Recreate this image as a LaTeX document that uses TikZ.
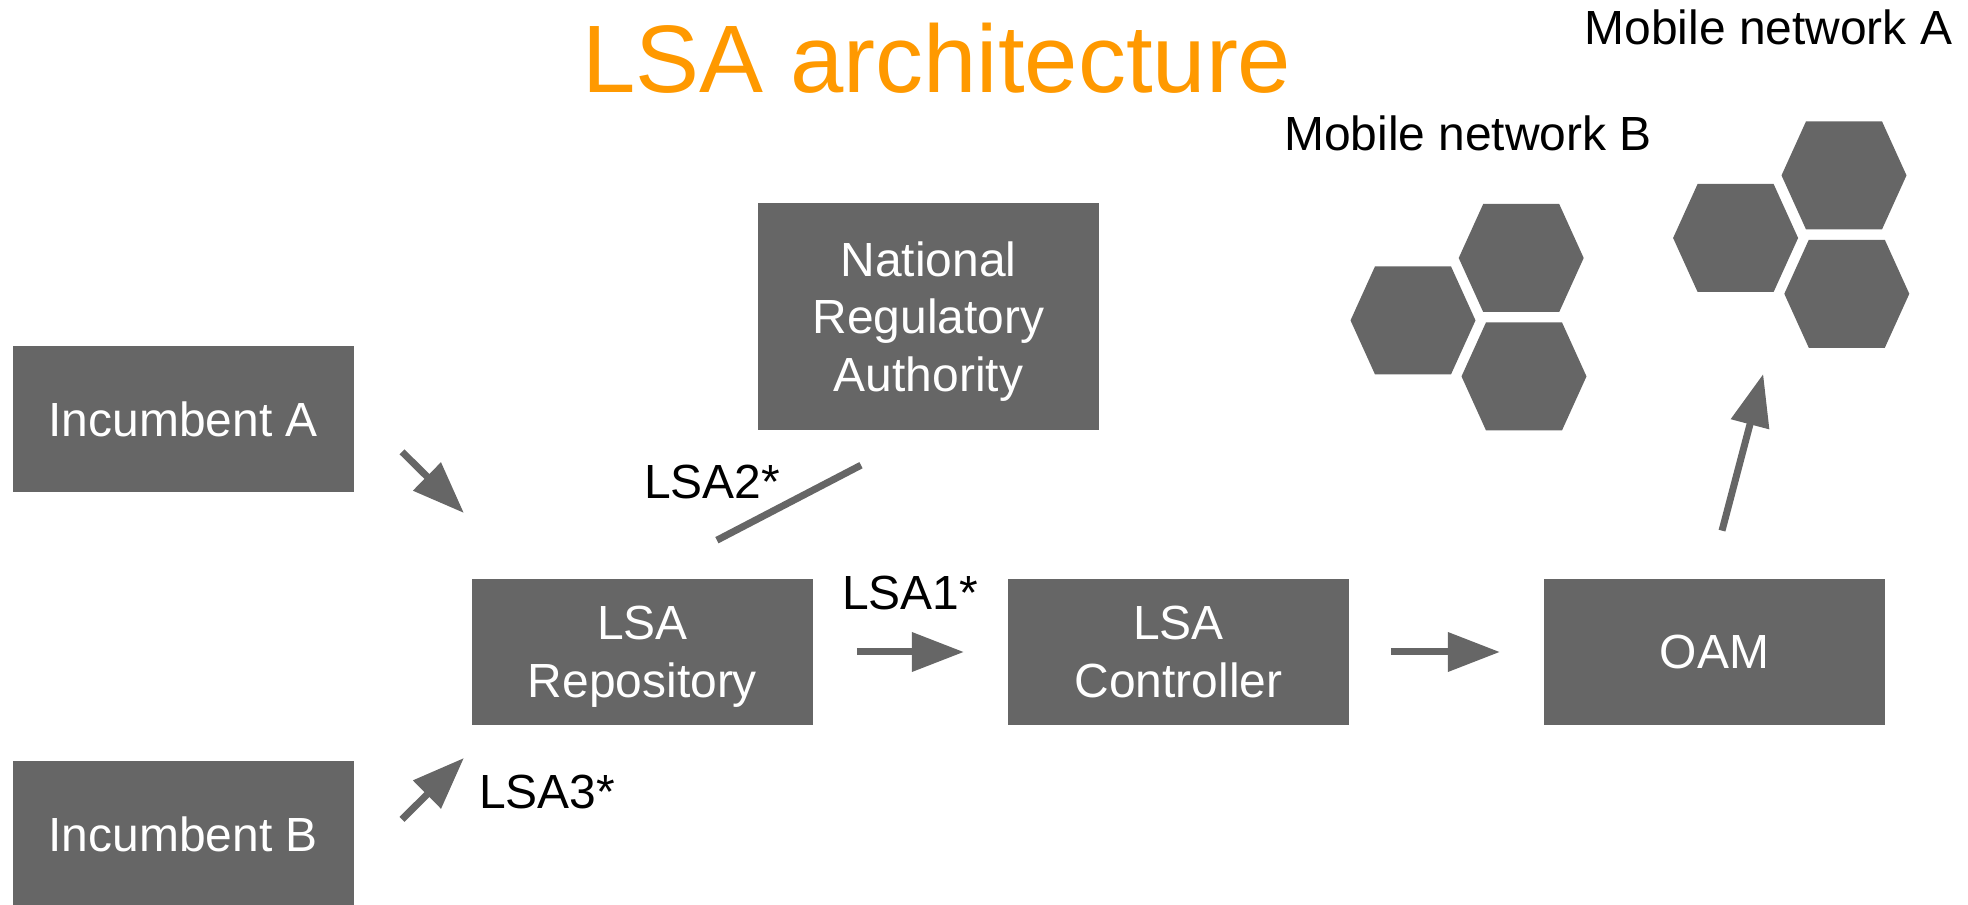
\documentclass[tikz,border=0pt]{standalone}
\usepackage{fontspec}
\setmainfont{Liberation Sans}
\usetikzlibrary{arrows.meta,calc,shapes.symbols}
\definecolor{boxgray}{HTML}{666666}
\definecolor{titleorange}{HTML}{FF9900}

\begin{document}
\begin{tikzpicture}[node distance = 134mm]
        \tikzstyle{box}=[fill = boxgray, text = white, align = center, inner sep = 0, outer sep = 0, minimum width = 85.25mm, minimum height = 36.5mm, text depth = 0pt, font = \fontsize{34.1pt}{41pt}\selectfont]
        \tikzstyle{cell}=[fill = boxgray, signal, signal to = east and west, signal pointer angle = 131.2, minimum width = 31.25mm, minimum height = 27mm, inner sep = 0, outer sep = 0]
        \tikzstyle{lbl}=[font = \fontsize{34.1pt}{41pt}\selectfont, inner sep = 0]
        \tikzstyle{conn}=[boxgray, line width = 1.75mm, -{Triangle[length = 13mm, width = 9.5mm]}]
        \tikzstyle{link}=[boxgray, line width = 1.75mm]

        \useasboundingbox (0,0) rectangle (492mm,226.25mm);

        \node (title) [font = \fontsize{68.2pt}{80pt}\selectfont, text = titleorange, inner sep = 0] at (234.25mm,211.75mm) {LSA architecture};

        \node (repo) [box] at (160.6mm,63.25mm) {LSA\\Repository};
        \node (ctrl) [box, right of = repo] {LSA\\Controller};
        \node (oam) [box, right of = ctrl] {OAM};
        \node (nra) [box, minimum height = 56.75mm] at (232.1mm,147.1mm) {National\\Regulatory\\Authority};
        \node (inca) [box] at (45.8mm,121.5mm) {Incumbent A};
        \node (incb) [box] at (45.8mm,17.75mm) {Incumbent B};

        % network A
        \node (aleft) [cell] at (433.9mm,166.75mm) {};
        \node (atop) [cell] at (461mm,182.4mm) {};
        \node (abot) [cell] at (461.7mm,152.8mm) {};
        % network B
        \node (bleft) [cell] at (353.25mm,146.15mm) {};
        \node (btop) [cell] at (380.3mm,161.75mm) {};
        \node (bbot) [cell] at (381mm,132.15mm) {};

        \node (neta) [lbl] at (442.1mm,219.35mm) {Mobile network A};
        \node (netb) [lbl] at (367mm,193mm) {Mobile network B};
        \node (lsaone) [lbl] at (227.5mm,77.9mm) {LSA1*};
        \node (lsatwo) [lbl] at (178mm,105.75mm) {LSA2*};
        \node (lsathree) [lbl] at (136.75mm,28.25mm) {LSA3*};

        \coordinate (repoa) at ($(repo.north west)+(-2mm,16.5mm)$);
        \coordinate (repob) at ($(repo.south west)+(-2mm,-8.25mm)$);
        \coordinate (cella) at ($(aleft.south)+(6.9mm,-20.5mm)$);

        \draw[conn]
            (repo) edge [shorten < = 11mm, shorten > = 11mm] (ctrl)
            (ctrl) edge [shorten < = 10.5mm, shorten > = 11mm] (oam)
            (inca.5.3) edge [shorten < = 17mm] (repoa)
            (incb.-11.6) edge [shorten < = 17mm] (repob)
            (oam.94) edge [shorten < = 12.5mm] (cella)
        ;
        \draw[link, shorten < = 19mm, shorten > = 21mm] (nra.south) -- (repo.north);

    \end{tikzpicture}
\end{document}
